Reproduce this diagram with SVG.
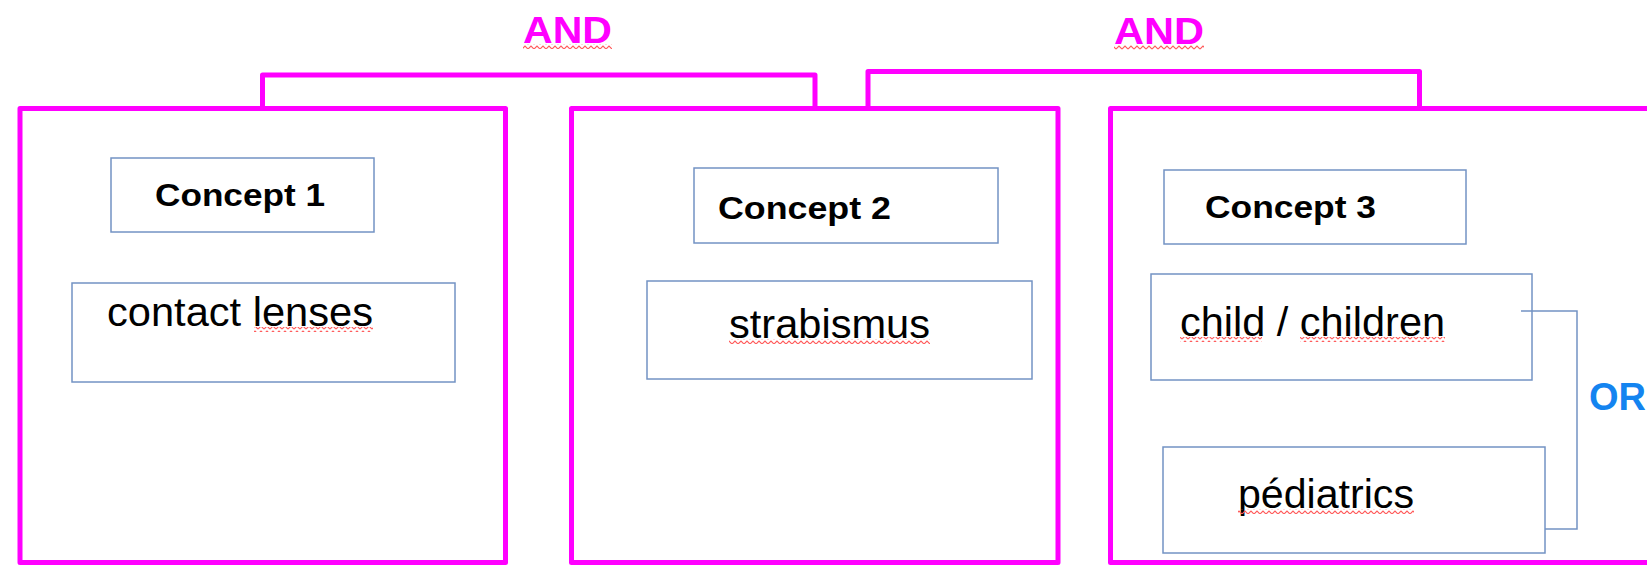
<svg xmlns="http://www.w3.org/2000/svg" width="1647" height="565" viewBox="0 0 1647 565">
<style>
.group{fill:none;stroke:#ff00ff;stroke-width:5;stroke-linejoin:round}
.box{fill:#fff;stroke:#7393c4;stroke-width:1.5}
.and{font-family:"Liberation Sans",Arial,sans-serif;font-weight:bold;font-size:36px;fill:#ff00ff}
.or{font-family:"Liberation Sans",Arial,sans-serif;font-weight:bold;font-size:38px;fill:#1484f0}
.head{font-family:"Liberation Sans",Arial,sans-serif;font-weight:bold;font-size:31px;fill:#000}
.term{font-family:"Liberation Sans",Arial,sans-serif;font-size:40px;fill:#000}
.conn{fill:none;stroke:#7393c4;stroke-width:1.5}
.wave{fill:url(#wave)}
</style>
<defs>
<pattern id="wave" width="6" height="5" patternUnits="userSpaceOnUse">
<polyline points="0,4 3,1 6,4" fill="none" stroke="#ff5a5a" stroke-width="1.1"/>
</pattern>
</defs>
<rect width="1647" height="565" fill="#fff"/>
<g id="concept1-group">
<rect class="group" x="20" y="108.5" width="485.5" height="454"/>
<g id="concept1-head"><rect class="box" x="111" y="158" width="263" height="74"/><text class="head" x="155" y="206" textLength="170" lengthAdjust="spacingAndGlyphs">Concept 1</text></g>
<g id="contact-lenses"><rect class="box" x="72" y="283" width="383" height="99"/><text class="term" x="107" y="326" textLength="266" lengthAdjust="spacingAndGlyphs">contact lenses</text><rect class="wave" x="254" y="327" width="119" height="5"/></g>
</g>
<g id="concept2-group">
<rect class="group" x="571.5" y="108.5" width="486.5" height="454"/>
<g id="concept2-head"><rect class="box" x="694" y="168" width="304" height="75"/><text class="head" x="718" y="219" textLength="173" lengthAdjust="spacingAndGlyphs">Concept 2</text></g>
<g id="strabismus"><rect class="box" x="647" y="281" width="385" height="98"/><text class="term" x="729" y="338" textLength="201" lengthAdjust="spacingAndGlyphs">strabismus</text><rect class="wave" x="729" y="339" width="201" height="5"/></g>
</g>
<g id="concept3-group">
<rect class="group" x="1110.5" y="108.5" width="560" height="454"/>
<g id="concept3-head"><rect class="box" x="1164" y="170" width="302" height="74"/><text class="head" x="1205" y="218" textLength="171" lengthAdjust="spacingAndGlyphs">Concept 3</text></g>
<g id="child"><rect class="box" x="1151" y="274" width="381" height="106"/><text class="term" x="1180" y="336" textLength="265" lengthAdjust="spacingAndGlyphs">child / children</text><rect class="wave" x="1180" y="337" width="82" height="5"/><rect class="wave" x="1300" y="337" width="145" height="5"/></g>
<g id="pediatrics"><rect class="box" x="1163" y="447" width="382" height="106"/><text class="term" x="1238" y="508" textLength="176" lengthAdjust="spacingAndGlyphs">pédiatrics</text><rect class="wave" x="1238" y="509" width="176" height="5"/></g>
</g>
<g id="connectors">
<path class="group" d="M262.5,108.5 V75 H815 V108.5"/>
<path class="group" d="M868,108.5 V71.5 H1419.5 V108.5"/>
<path class="conn" d="M1521,311 H1577 V529 H1545"/>
</g>
<g id="labels">
<text class="and" x="523" y="43" textLength="89" lengthAdjust="spacingAndGlyphs">AND</text>
<rect class="wave" x="523" y="44" width="89" height="5"/>
<text class="and" x="1114" y="44" textLength="90" lengthAdjust="spacingAndGlyphs">AND</text>
<rect class="wave" x="1114" y="45" width="90" height="5"/>
<text class="or" x="1589" y="410">OR</text>
</g>
</svg>
